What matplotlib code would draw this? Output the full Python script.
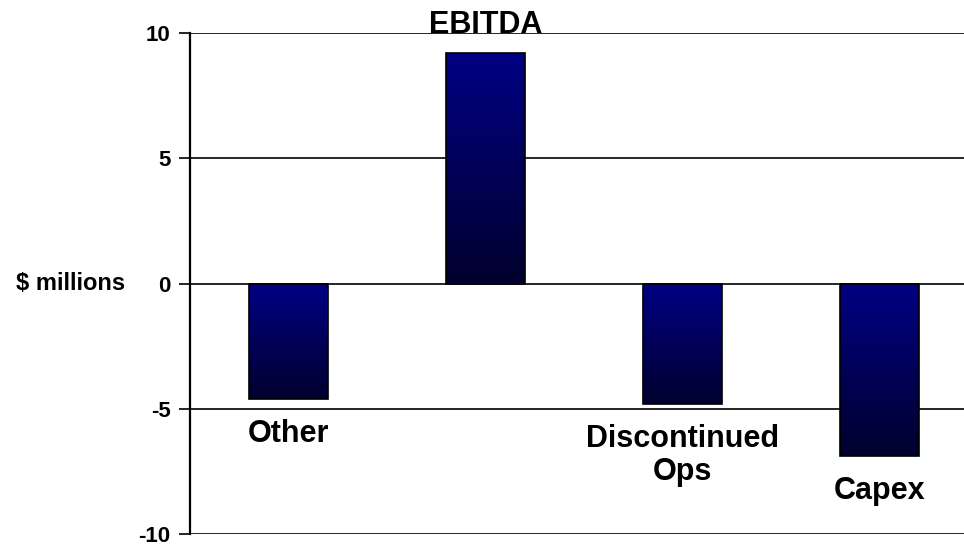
import numpy as np
import matplotlib
matplotlib.use("Agg")
from matplotlib import pyplot as plt
from matplotlib.colors import LinearSegmentedColormap

categories = ["Other", "EBITDA", "Discontinued\nOps", "Capex"]
values = [-4.6, 9.2, -4.8, -6.9]
yticks = [-10, -5, 0, 5, 10]

plt.rcParams["font.family"] = ["Liberation Sans", "DejaVu Sans"]
plt.rcParams["font.weight"] = "bold"

fig = plt.figure(figsize=(9.64, 5.46), dpi=100)
# right edge runs past the canvas, the grid lines are cut at the border
ax = fig.add_axes([190 / 964, 12 / 546, 788 / 964, 501 / 546])

cmap = LinearSegmentedColormap.from_list("navy", ["#00002e", "#000084"])
grad = np.linspace(0, 1, 256).reshape(-1, 1)
width = 0.4

x = np.arange(len(categories))
bars = ax.bar(x, values, width=width, color="none", edgecolor="black",
              linewidth=1.2, zorder=3)
for rect in bars:
    x0, w = rect.get_x(), rect.get_width()
    y0 = min(rect.get_y(), rect.get_y() + rect.get_height())
    y1 = max(rect.get_y(), rect.get_y() + rect.get_height())
    im = ax.imshow(grad, cmap=cmap, origin="lower", aspect="auto",
                   extent=(x0, x0 + w, y0, y1), zorder=2)
    im.set_clip_path(rect)

ax.set_xlim(-0.5, len(categories) - 0.5)
ax.set_ylim(-10, 10)
ax.set_yticks(yticks)
ax.set_yticklabels([str(t) for t in yticks], fontsize=16, fontweight="bold")
ax.set_xticks([])
ax.tick_params(axis="y", direction="out", length=8, width=1.2, pad=6)

for t in yticks:
    ax.axhline(t, color="black", linewidth=1.2, zorder=1)

for s in ["top", "right", "bottom"]:
    ax.spines[s].set_visible(False)
ax.spines["left"].set_linewidth(1.6)

ax.set_ylabel("$ millions", fontsize=17, fontweight="bold", rotation=0,
              ha="center", va="center")
ax.yaxis.set_label_coords(-0.152, 0.5)

# category names sit beside the bar end
for xi, v, name in zip(x, values, categories):
    if v > 0:
        ax.text(xi, v + 0.8, name, ha="center", va="baseline", fontsize=22,
                fontweight="bold", zorder=4)
    else:
        ax.text(xi, v - 0.8, name, ha="center", va="top", fontsize=22,
                fontweight="bold", linespacing=1.15, zorder=4)

fig.savefig("out.png", dpi=100)
